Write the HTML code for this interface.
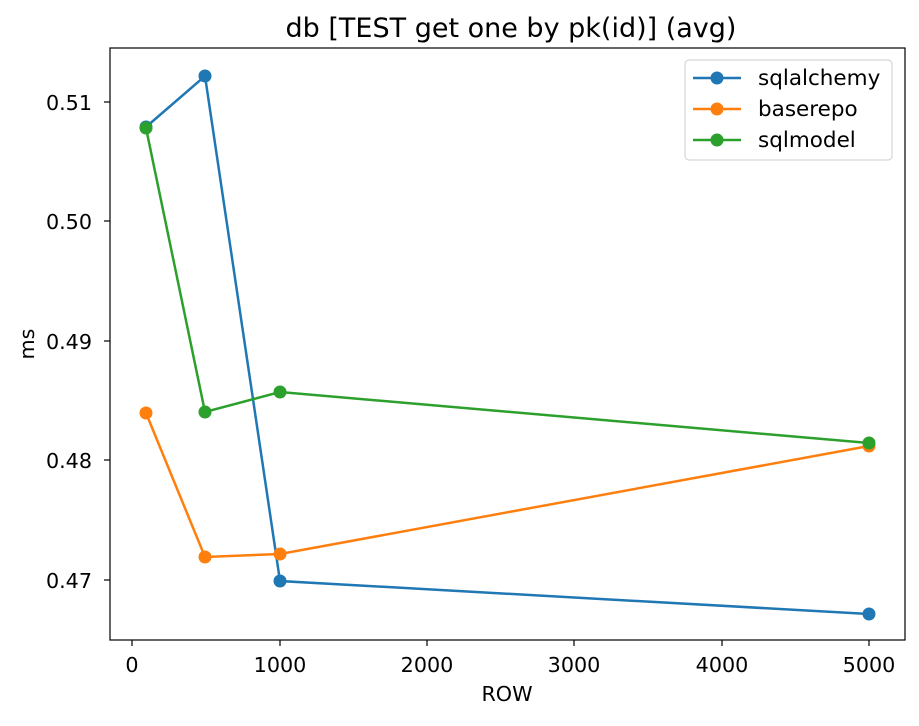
<!DOCTYPE html>
<html><head><meta charset="utf-8"><style>body{margin:0;background:#fff}</style></head><body>
<svg width="919" height="721" xmlns="http://www.w3.org/2000/svg" font-family="DejaVu Sans, Liberation Sans, sans-serif">
<rect width="919" height="721" fill="#fff"/>
<text x="511" y="37" font-size="27" text-anchor="middle" fill="#000">db [TEST get one by pk(id)] (avg)</text>
<g stroke="#000" stroke-width="1.2">
<line x1="132" y1="640" x2="132" y2="646"/><line x1="280" y1="640" x2="280" y2="646"/><line x1="427" y1="640" x2="427" y2="646"/><line x1="574" y1="640" x2="574" y2="646"/><line x1="722" y1="640" x2="722" y2="646"/><line x1="869" y1="640" x2="869" y2="646"/>
<line x1="104" y1="102" x2="110" y2="102"/><line x1="104" y1="221" x2="110" y2="221"/><line x1="104" y1="341" x2="110" y2="341"/><line x1="104" y1="460" x2="110" y2="460"/><line x1="104" y1="580" x2="110" y2="580"/>
</g>
<g font-size="20.7" fill="#000" text-anchor="middle">
<text x="132" y="672">0</text><text x="280" y="672">1000</text><text x="427" y="672">2000</text><text x="574" y="672">3000</text><text x="722" y="672">4000</text><text x="869" y="672">5000</text>
<text x="507" y="701">ROW</text>
</g>
<g font-size="20.7" fill="#000" text-anchor="end">
<text x="92" y="110">0.51</text><text x="92" y="229">0.50</text><text x="92" y="349">0.49</text><text x="92" y="468">0.48</text><text x="92" y="588">0.47</text>
</g>
<text transform="translate(34,344) rotate(-90)" font-size="20.7" text-anchor="middle">ms</text>
<g fill="none" stroke-width="2.5">
<polyline stroke="#1f77b4" points="146,127 205,76 280,581 869,614"/>
<polyline stroke="#ff7f0e" points="146,413 205,557 280,554 869,446"/>
<polyline stroke="#2ca02c" points="146,128 205,412 280,392 869,443"/>
</g>
<g fill="#1f77b4"><circle cx="146" cy="127" r="6.5"/><circle cx="205" cy="76" r="6.5"/><circle cx="280" cy="581" r="6.5"/><circle cx="869" cy="614" r="6.5"/></g>
<g fill="#ff7f0e"><circle cx="146" cy="413" r="6.5"/><circle cx="205" cy="557" r="6.5"/><circle cx="280" cy="554" r="6.5"/><circle cx="869" cy="446" r="6.5"/></g>
<g fill="#2ca02c"><circle cx="146" cy="128" r="6.5"/><circle cx="205" cy="412" r="6.5"/><circle cx="280" cy="392" r="6.5"/><circle cx="869" cy="443" r="6.5"/></g>
<rect x="110" y="48" width="795" height="592" fill="none" stroke="#000" stroke-width="1.2"/>
<rect x="685" y="60" width="207" height="100" rx="4" fill="#fff" fill-opacity="0.8" stroke="#ccc"/>
<g stroke-width="2.5">
<line x1="693" y1="78" x2="741" y2="78" stroke="#1f77b4"/><circle cx="717" cy="78" r="6.5" fill="#1f77b4"/>
<line x1="693" y1="109" x2="741" y2="109" stroke="#ff7f0e"/><circle cx="717" cy="109" r="6.5" fill="#ff7f0e"/>
<line x1="693" y1="140" x2="741" y2="140" stroke="#2ca02c"/><circle cx="717" cy="140" r="6.5" fill="#2ca02c"/>
</g>
<g font-size="21.5" fill="#000">
<text x="758" y="85">sqlalchemy</text><text x="758" y="116">baserepo</text><text x="758" y="147">sqlmodel</text>
</g>
</svg>
</body></html>
